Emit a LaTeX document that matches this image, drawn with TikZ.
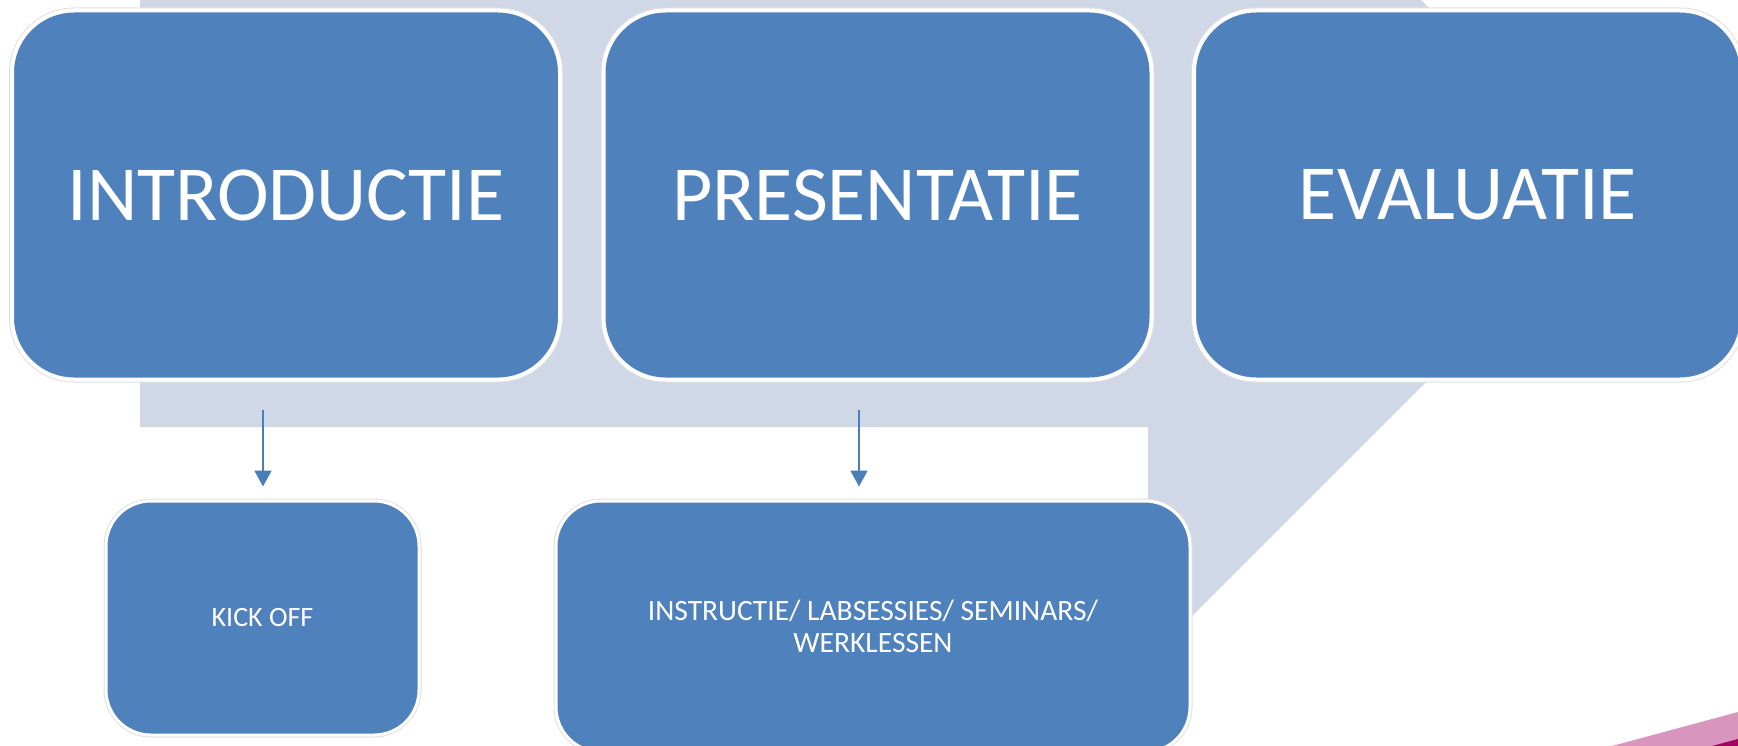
\documentclass[tikz,border=0pt]{standalone}
\usepackage{fontspec}
\setmainfont{Carlito}
\usetikzlibrary{arrows.meta}

\definecolor{phaseblue}{HTML}{4F81BD}
\definecolor{arrowblue}{HTML}{4A7EBB}
\definecolor{backgray}{HTML}{D0D8E8}
\definecolor{cornerpink}{HTML}{D896BF}
\definecolor{cornermagenta}{HTML}{A8005F}

\begin{document}
\begin{tikzpicture}[x=1pt,y=-1pt]
\tikzstyle{phase} = [rectangle, rounded corners=62pt, fill=phaseblue, draw=white, line width=4pt,
  preaction={draw=black!12, line width=6pt}, text=white, font=\fontsize{78}{90}\selectfont,
  minimum width=548pt, minimum height=369pt, inner sep=0pt]
\tikzstyle{activity} = [rectangle, rounded corners=45pt, fill=phaseblue, draw=white, line width=3pt,
  preaction={draw=black!12, line width=5pt}, text=white, font=\fontsize{28}{32}\selectfont,
  align=center, inner sep=0pt]
\tikzstyle{arrow} = [draw=arrowblue, line width=2pt, -{Triangle[width=17pt,length=16pt]}, shorten >=13pt]

\useasboundingbox (0,0) rectangle (1738,746);

% background shape
\fill[backgray] (140,0) -- (1421,0) -- (1614.5,193.5) -- (1148,660) -- (1148,427) -- (140,427) -- cycle;
\fill[cornerpink] (1612,746) -- (1738,712) -- (1738,746) -- cycle;
\fill[cornermagenta] (1712,746) -- (1738,739) -- (1738,746) -- cycle;

\node (intro) [phase] at (286,195) {INTRODUCTIE};
\node (pres) [phase] at (877.5,195) {PRESENTATIE};
\node (eval) [phase] at (1468,195) {EVALUATIE};

\node (kick) [activity, minimum width=313pt, minimum height=234pt] at (262.5,618) {KICK OFF};
\node (inst) [activity, minimum width=634pt, minimum height=251pt, font=\fontsize{29.5}{32}\selectfont]
  at (873,626.5) {INSTRUCTIE/ LABSESSIES/ SEMINARS/\\WERKLESSEN};

\coordinate (introtail) at (263,410);
\coordinate (prestail) at (859,410);

\draw [arrow] (introtail) -- (introtail |- kick.north);
\draw [arrow] (prestail) -- (prestail |- inst.north);
\end{tikzpicture}
\end{document}
